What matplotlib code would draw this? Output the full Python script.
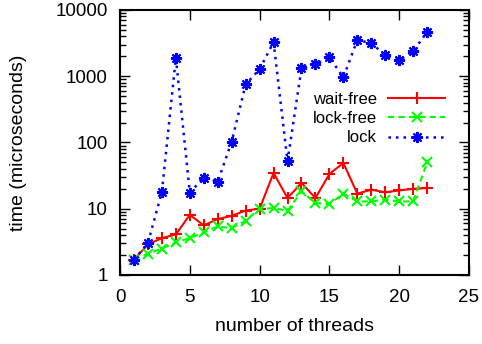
import matplotlib
matplotlib.use("Agg")
import matplotlib.pyplot as plt
from matplotlib.ticker import LogLocator, NullFormatter, FixedLocator

plt.rcParams['font.family'] = ['Liberation Sans', 'DejaVu Sans']

threads = list(range(1, 23))
wait_free = [1.7, 2.9, 3.6, 4.1, 8.1, 5.6, 7.0, 7.8, 9.4, 10.0, 34.7, 14.5,
             24.5, 14.5, 33.5, 49.0, 16.9, 19.4, 17.7, 18.9, 20.0, 20.5]
lock_free = [1.7, 2.1, 2.5, 3.1, 3.6, 4.4, 5.4, 5.1, 6.6, 10.0, 10.2, 9.3,
             18.3, 12.2, 11.8, 16.9, 12.9, 12.9, 13.7, 12.9, 12.9, 50.0]
lock = [1.7, 3.05, 18, 1900, 17.5, 29.5, 25.6, 103, 755, 1277, 3270, 52,
        1320, 1520, 1940, 960, 3520, 3160, 2080, 1740, 2390, 4650]

fig = plt.figure(figsize=(4.82, 3.44), dpi=100)
ax = fig.add_axes([0.249, 0.2006, 0.724, 0.7704])

ax.plot(threads, wait_free, color='#ff0000', linestyle='-', linewidth=1.5,
        marker='+', markersize=8, markeredgewidth=1.5, label='wait-free')
ax.plot(threads, lock_free, color='#00ff00', linestyle=(0, (3, 2)), linewidth=1.5,
        marker='x', markersize=7, markeredgewidth=1.5, label='lock-free')
ax.plot(threads, lock, color='#0000ff', linestyle=(0, (1, 2)), linewidth=1.8,
        marker=(8, 2, 0), markersize=8, markeredgewidth=1.5, label='lock')

ax.set_yscale('log')
ax.set_xlim(0, 25)
ax.set_ylim(1, 10000)
ax.xaxis.set_major_locator(FixedLocator([0, 5, 10, 15, 20, 25]))
ax.yaxis.set_minor_locator(LogLocator(base=10, subs=range(2, 10), numticks=10))
ax.yaxis.set_minor_formatter(NullFormatter())
ax.set_yticks([1, 10, 100, 1000, 10000])
ax.set_yticklabels(['1', '10', '100', '1000', '10000'])

ax.tick_params(which='major', direction='in', length=7, width=1,
               top=True, right=True, labelsize=13.5)
ax.tick_params(which='minor', direction='in', length=4, width=1,
               left=True, right=True)
ax.tick_params(axis='x', pad=10)
ax.tick_params(axis='y', pad=9)
for s in ax.spines.values():
    s.set_linewidth(1.5)

ax.set_xlabel('number of threads', fontsize=14, labelpad=9)
ax.set_ylabel('time (microseconds)', fontsize=14, labelpad=20)

ax.legend(loc='upper right', bbox_to_anchor=(0.931, 0.69), frameon=False,
          markerfirst=False, fontsize=12, borderpad=0, borderaxespad=0,
          handlelength=3.4, handletextpad=0.7, labelspacing=0.25)

fig.savefig('out.png', dpi=100)
